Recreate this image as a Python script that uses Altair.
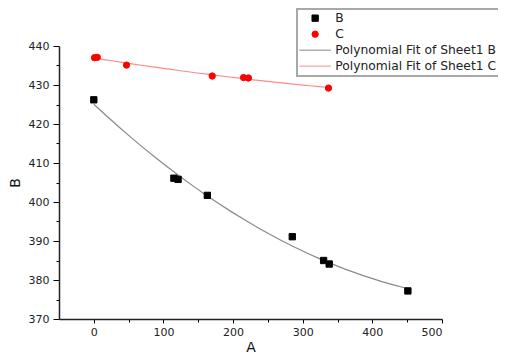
import altair as alt
import pandas as pd

# Data
a_b = [0, 115, 121, 163, 285, 330, 338, 451]
v_b = [426.2, 406.1, 405.8, 401.7, 391.1, 385.0, 384.1, 377.2]
a_c = [1, 5, 47, 170, 215, 222, 337]
v_c = [437.0, 437.1, 435.1, 432.3, 431.9, 431.8, 429.2]

series_names = ["B", "C", "Polynomial Fit of Sheet1 B", "Polynomial Fit of Sheet1 C"]
series_colors = ["#000000", "#ff0000", "#8a8a8a", "#ff8a8a"]
series_shapes = ["square", "circle", "M-5,0H5", "M-5,0H5"]

x_ticks = [0, 50, 100, 150, 200, 250, 300, 350, 400, 450, 500]
y_ticks = [370, 375, 380, 385, 390, 395, 400, 405, 410, 415, 420, 425, 430, 435, 440]

df = pd.DataFrame({
    "A": a_b + a_c,
    "val": v_b + v_c,
    "series": ["B"] * len(a_b) + ["C"] * len(a_c),
})

FONT = "DejaVu Sans"

legend = alt.Legend(
    title=None, orient="none", legendX=238, legendY=-37,
    fillColor="white", strokeColor="#a8a8a8",
    padding=3, rowPadding=3, symbolSize=40, symbolStrokeWidth=1,
    symbolOffset=9, labelOffset=14, labelLimit=400,
    labelFont=FONT, labelFontSize=12.3, labelColor="#222222",
)

fill_scale = alt.Scale(domain=series_names, range=series_colors)
shape_scale = alt.Scale(domain=series_names, range=series_shapes)

x_enc = alt.X(
    "A:Q",
    scale=alt.Scale(domain=[-50, 500], nice=False, zero=False),
    axis=alt.Axis(
        title="A", values=x_ticks, grid=False,
        labelExpr="datum.value % 100 === 0 ? datum.label : ''",
        tickSize={"condition": {"test": "datum.value % 100 === 0", "value": 4}, "value": 3},
        tickColor="#000000", domainColor="#222222", domainWidth=1.5,
        labelFont=FONT, labelFontSize=11, labelColor="#222222", labelPadding=3,
        titleFont=FONT, titleFontSize=14, titleFontWeight="normal", titleColor="#111111",
        titlePadding=3, labelOverlap=False,
    ),
)
y_enc = alt.Y(
    "val:Q",
    scale=alt.Scale(domain=[370, 440], nice=False, zero=False),
    axis=alt.Axis(
        title="B", values=y_ticks, grid=False,
        labelExpr="datum.value % 10 === 0 ? datum.label : ''",
        tickSize={"condition": {"test": "datum.value % 10 === 0", "value": 6}, "value": 3},
        tickColor="#000000", domainColor="#222222", domainWidth=1.5,
        labelFont=FONT, labelFontSize=11, labelColor="#222222", labelPadding=4,
        titleFont=FONT, titleFontSize=14, titleFontWeight="normal", titleColor="#111111",
        titlePadding=6, labelOverlap=False,
    ),
)

fits = (
    alt.Chart(df)
    .transform_regression("A", "val", groupby=["series"], method="poly", order=2)
    .transform_calculate(fit="'Polynomial Fit of Sheet1 ' + datum.series")
    .mark_line(strokeWidth=1.2)
    .encode(
        x=x_enc, y=y_enc,
        stroke=alt.Stroke("fit:N", scale=fill_scale, legend=legend),
        detail="series:N",
    )
)

points = (
    alt.Chart(df)
    .mark_point(filled=True, size=40, opacity=1, strokeWidth=1)
    .encode(
        x=x_enc, y=y_enc,
        fill=alt.Fill("series:N", scale=fill_scale, legend=legend),
        stroke=alt.Stroke("series:N", scale=fill_scale, legend=legend),
        shape=alt.Shape("series:N", scale=shape_scale, legend=legend),
    )
)

chart = (
    alt.layer(fits, points)
    .properties(
        width=383, height=273,
        autosize=alt.AutoSizeParams(type="none"),
        padding={"left": 51, "top": 38, "right": 56, "bottom": 34},
        background="white",
    )
    .configure_view(stroke=None)
    .configure_legend(strokeWidth=2)
)

chart.save("out.html", embed_options={"renderer": "svg", "actions": False})
